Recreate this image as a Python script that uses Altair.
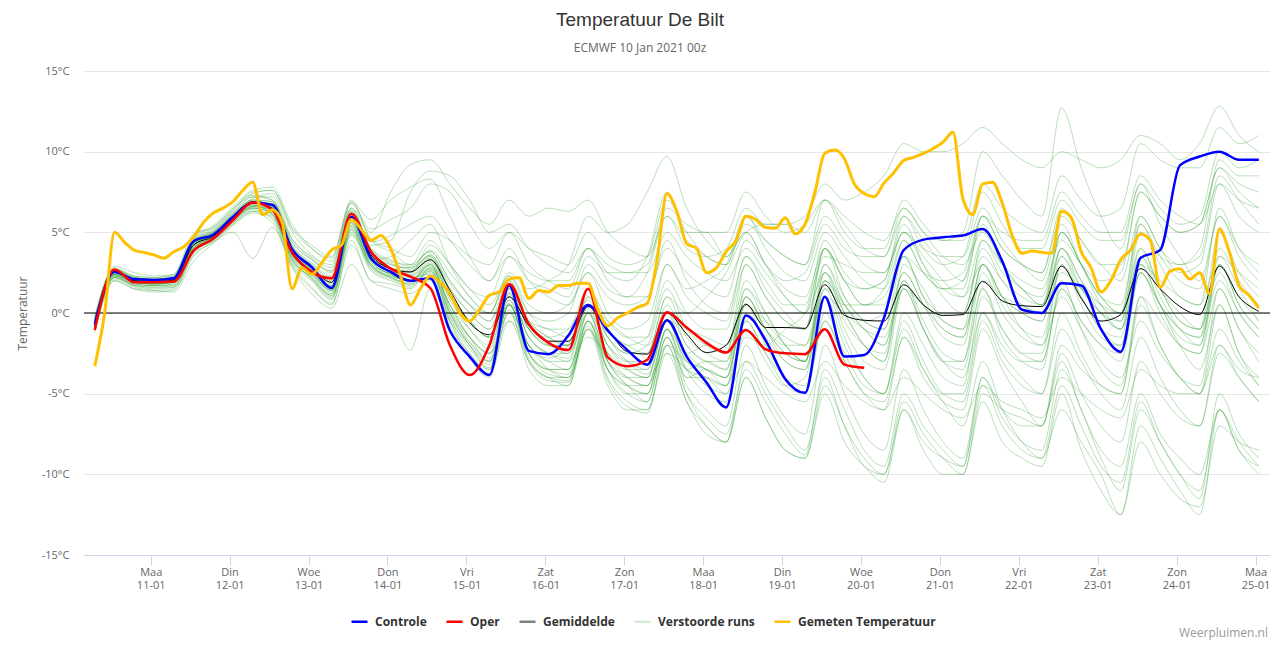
import altair as alt
import pandas as pd

# ---------------- data ----------------
# 6-hourly forecast steps (local time), 10 Jan 07:00 .. 25 Jan 01:00
t6 = pd.date_range("2021-01-10 07:00", periods=60, freq="6h").strftime("%Y-%m-%dT%H:%M:%S").tolist()
# 3-hourly observation steps
t3 = pd.date_range("2021-01-10 07:00", periods=119, freq="3h").strftime("%Y-%m-%dT%H:%M:%S").tolist()

controle = [-0.7, 2.55, 2.1, 2.05, 2.15, 4.45, 4.85, 5.95, 6.85, 6.7, 3.95, 2.85, 1.55, 5.95, 3.4,
            2.55, 2.0, 2.15, -1.1, -2.7, -3.85, 1.7, -2.35, -2.55, -1.4, 0.5, -1.1, -2.3, -3.2, -0.45,
            -2.7, -4.3, -5.85, -0.15, -1.7, -4.1, -4.95, 1.0, -2.7, -2.6, -0.3, 3.9, 4.55, 4.7, 4.8,
            5.2, 3.2, 0.2, 0.0, 1.85, 1.7, -1.0, -2.4, 3.4, 3.9, 9.15, 9.7, 10.0, 9.5, 9.5]

oper = [-1.05, 2.7, 1.9, 1.9, 1.95, 3.85, 4.6, 5.75, 6.85, 6.4, 3.75, 2.55, 2.15, 6.15, 3.8,
        2.75, 2.25, 1.55, -2.0, -3.85, -2.0, 1.8, -0.7, -1.85, -2.3, 1.5, -2.75, -3.3, -2.9, 0.05,
        -0.9, -1.85, -2.45, -1.05, -2.25, -2.5, -2.55, -1.0, -3.2, -3.4]

gemiddelde = [-0.8, 2.6, 2.0, 1.95, 2.05, 4.2, 4.75, 5.85, 6.8, 6.5, 3.9, 2.8, 1.9, 5.9, 3.6,
              2.75, 2.55, 3.3, 1.4, -0.6, -1.35, 1.0, -0.8, -1.75, -1.75, 0.4, -1.0, -2.4, -2.55, 0.0,
              -1.3, -2.45, -2.0, 0.55, -0.9, -0.9, -0.95, 1.75, -0.15, -0.45, -0.5, 1.75, 0.5, -0.15, -0.1,
              1.95, 0.75, 0.45, 0.4, 2.9, 0.9, -0.5, -0.1, 2.75, 1.5, 0.4, -0.1, 2.9, 1.0, 0.1]

gemeten = [-3.3, 0.0, 5.0, 4.4, 3.9, 3.75, 3.6, 3.4, 3.8, 4.1, 4.7, 5.6, 6.2, 6.5, 6.9, 7.6, 8.1,
           6.1, 6.4, 5.6, 1.5, 2.8, 2.4, 3.1, 3.9, 4.2, 5.8, 5.2, 4.5, 4.8, 4.0, 2.3, 0.5, 1.5, 2.3,
           1.9, 1.2, 0.0, -0.5, 0.2, 1.1, 1.3, 2.1, 2.2, 0.9, 1.4, 1.3, 1.7, 1.7, 1.85, 1.85, 0.2,
           -0.8, -0.3, 0.0, 0.35, 0.6, 3.3, 7.4, 6.3, 4.3, 4.0, 2.5, 2.8, 3.8, 4.5, 6.0, 5.8, 5.3,
           5.25, 5.9, 4.9, 5.5, 7.5, 9.9, 10.1, 9.55, 8.0, 7.4, 7.2, 8.05, 8.7, 9.45, 9.65, 9.9,
           10.2, 10.6, 11.2, 7.1, 6.1, 8.0, 8.1, 6.8, 4.8, 3.7, 3.85, 3.76, 3.7, 6.3, 5.9, 3.8, 2.8,
           1.3, 2.0, 3.3, 3.9, 4.9, 4.5, 1.6, 2.6, 2.75, 2.1, 2.5, 1.2, 5.2, 3.8, 1.7, 1.1, 0.3]

runs = [
    [-0.5, 2.6, 2.1, 2.0, 2.1, 4.4, 4.9, 6.0, 6.9, 6.4, 3.7, 2.6, 1.5, 5.8, 3.3,
     2.6, 2.2, 2.4, -0.8, -2.5, -3.5, 1.2, -2.0, -2.8, -2.0, 0.8, -1.5, -3.0, -3.8, -0.5, -3.0,
     -3.5, -4.0, 1.0, -1.0, -2.5, -3.0, 2.5, -0.5, -2.0, -2.5, 2.0, -1.0, -3.0, -3.5, 1.5, -1.5,
     -3.0, -3.5, 2.0, -1.0, -3.5, -4.5, 1.0, -2.0, -4.0, -5.0, 0.5, -2.5, -4.0],
    [-0.3, 2.8, 2.3, 2.2, 2.4, 4.9, 5.3, 6.5, 7.3, 7.0, 4.6, 3.5, 3.0, 6.5, 5.0,
     7.5, 9.2, 9.5, 8.0, 6.5, 5.5, 7.0, 6.0, 6.5, 6.3, 7.0, 5.0, 4.0, 3.5, 6.0, 4.5,
     3.5, 3.0, 5.5, 4.5, 3.5, 3.0, 6.0, 4.5, 3.0, 2.5, 5.0, 3.0, 1.5, 1.0, 4.5, 3.0,
     2.0, 1.5, 4.5, 3.0, 2.0, 2.5, 7.5, 6.0, 5.0, 5.5, 9.0, 8.0, 7.5],
    [-0.6, 2.4, 1.9, 1.8, 2.0, 4.0, 4.6, 5.7, 6.6, 6.8, 4.2, 3.0, 2.2, 6.3, 4.2,
     4.5, 7.5, 8.8, 8.5, 7.0, 5.0, 5.5, 4.0, 3.0, 2.5, 4.0, 2.5, 2.0, 3.5, 7.5, 5.0,
     5.0, 3.5, 5.0, 3.0, 1.0, 0.0, 4.0, 2.0, 1.5, 2.0, 5.5, 3.0, 1.0, 0.0, 4.0, 2.0,
     0.5, 0.0, 5.0, 3.0, 1.0, 0.0, 6.0, 4.0, 2.5, 3.0, 8.0, 7.0, 6.5],
    [-0.9, 2.2, 1.7, 1.5, 1.6, 3.8, 4.5, 5.5, 6.3, 6.0, 3.2, 2.2, 1.0, 5.0, 2.8,
     2.2, 1.8, 2.5, -0.2, -1.8, -2.8, 0.8, -2.5, -3.8, -4.0, 0.0, -3.0, -4.5, -5.0, -1.5, -4.5,
     -6.0, -7.0, -2.0, -4.5, -6.5, -7.5, -2.0, -5.0, -7.5, -8.5, -3.5, -6.0, -8.0, -9.0, -4.0, -6.5,
     -8.0, -8.5, -3.5, -6.0, -9.0, -11.0, -6.0, -8.0, -10.0, -11.5, -5.0, -7.5, -9.0],
    [-0.4, 2.5, 2.2, 2.1, 2.2, 4.3, 4.8, 6.1, 7.1, 7.4, 5.0, 3.6, 2.8, 6.8, 4.5,
     3.8, 3.0, 3.8, 2.0, 0.5, -0.5, 2.0, -0.5, -1.0, -1.5, 1.5, -1.0, -2.0, -2.5, 1.0, -1.5,
     -2.5, -3.0, 1.5, 0.0, -2.0, -3.0, 2.0, 0.0, -2.0, -3.0, 3.0, 1.5, -0.5, -1.0, 4.5, 2.5,
     1.5, 0.5, 5.0, 3.0, 1.0, 0.5, 5.5, 3.5, 2.0, 1.5, 6.0, 4.0, 3.0],
    [-1.2, 2.0, 1.5, 1.3, 1.4, 3.5, 4.4, 5.0, 3.4, 5.3, 3.0, 1.6, 0.5, 4.5, 2.0,
     1.8, 1.5, 2.8, 0.5, -1.5, -3.0, 0.5, -3.0, -4.2, -4.3, -0.5, -4.0, -5.5, -6.0, -2.0, -5.0,
     -6.5, -7.5, -3.5, -5.5, -7.5, -8.8, -3.5, -6.0, -8.5, -9.5, -5.0, -7.0, -8.5, -9.5, -4.5, -7.0,
     -8.5, -9.0, -6.0, -8.0, -10.0, -12.5, -7.0, -9.0, -11.0, -12.5, -6.0, -8.0, -9.5],
    [-0.7, 2.6, 2.0, 1.9, 2.0, 4.6, 5.1, 6.2, 7.0, 6.5, 3.8, 2.7, 1.6, 5.5, 3.0,
     2.5, 2.5, 4.2, 3.0, 1.5, 0.5, 2.3, 0.5, 0.0, 0.5, 2.5, 1.0, 0.5, 1.0, 4.0, 2.5,
     1.5, 1.0, 4.5, 3.0, 2.0, 2.5, 5.5, 4.0, 3.5, 3.5, 6.5, 5.0, 4.5, 4.5, 8.0, 6.5,
     5.5, 5.0, 8.5, 7.0, 6.0, 6.5, 10.5, 9.5, 9.0, 9.0, 11.5, 10.5, 11.0],
    [-0.5, 2.4, 2.0, 2.0, 2.3, 4.5, 5.0, 6.0, 7.0, 6.9, 4.4, 3.3, 2.5, 6.0, 3.8,
     3.0, 2.8, 3.5, 1.5, 0.0, -1.0, 1.5, -1.0, -2.0, -2.0, 1.0, -1.0, -2.0, -1.5, 3.0, 1.5,
     2.0, 3.0, 6.0, 4.5, 3.5, 3.0, 7.0, 5.0, 4.0, 4.0, 7.0, 5.5, 4.5, 5.0, 10.0, 8.5,
     7.0, 6.0, 12.7, 9.0, 6.0, 4.0, 8.0, 5.5, 3.5, 2.0, 6.0, 3.5, 2.0],
    [-0.6, 2.7, 2.2, 2.0, 2.1, 4.3, 4.8, 5.8, 6.6, 6.2, 3.6, 2.5, 1.4, 5.2, 3.3,
     3.5, 4.5, 5.5, 3.0, 1.0, 0.0, 2.0, 0.0, -0.5, 0.0, 3.0, 1.5, 1.0, 2.5, 6.0, 4.0,
     3.5, 4.0, 6.5, 5.5, 5.5, 6.0, 8.0, 7.0, 7.5, 8.5, 10.5, 10.0, 10.0, 10.5, 11.5, 10.5,
     9.5, 9.0, 10.0, 9.5, 9.0, 9.5, 11.0, 10.5, 9.5, 10.5, 12.8, 11.0, 10.0],
    [-0.8, 2.3, 1.8, 1.7, 1.8, 4.0, 4.7, 5.8, 6.6, 6.3, 3.5, 2.3, 1.2, 5.4, 3.0,
     2.3, 2.0, 2.8, 0.5, -1.0, -2.0, 1.0, -1.5, -2.5, -3.0, 0.5, -2.5, -4.0, -4.5, -1.0, -3.5,
     -3.0, -3.5, 1.5, -0.5, -2.0, -3.0, 2.5, 0.0, -2.0, -3.0, 2.0, -0.5, -2.5, -3.0, 1.5, -1.0,
     -2.5, -3.0, 1.5, -0.5, -2.0, -3.0, 2.5, 0.5, -1.0, -1.5, 4.0, 2.0, 0.5],
    [-0.2, 2.9, 2.5, 2.3, 2.4, 4.8, 5.4, 6.6, 7.6, 7.8, 5.5, 4.0, 3.4, 7.0, 4.6,
     4.0, 3.5, 5.0, 4.5, 3.5, 3.0, 5.0, 4.0, 3.5, 3.0, 5.0, 3.5, 3.0, 3.5, 7.0, 5.0,
     3.5, 3.0, 6.0, 4.0, 2.5, 2.0, 5.0, 3.5, 2.0, 1.5, 4.5, 2.5, 1.5, 2.0, 6.0, 4.0,
     3.0, 2.5, 6.5, 4.5, 3.0, 2.0, 6.0, 4.0, 3.0, 3.5, 8.5, 7.0, 5.5],
    [-1.0, 2.1, 1.6, 1.4, 1.3, 3.2, 4.3, 5.4, 6.2, 5.6, 2.8, 1.2, 0.3, 3.0, 1.0,
     0.0, -2.3, 1.5, -0.5, -2.0, -3.5, 0.0, -3.0, -4.0, -4.5, -0.5, -3.5, -5.0, -5.5, -1.5, -4.0,
     -4.0, -4.5, 1.0, -1.0, -2.5, -3.0, 3.0, 0.5, -1.0, -2.0, 2.5, 0.5, -1.5, -2.0, 3.0, 0.5,
     -1.0, -1.5, 3.5, 1.0, -1.0, -2.0, 3.0, 0.5, -1.5, -2.0, 3.5, 1.5, -0.5],
    [-0.6, 2.5, 2.0, 1.9, 1.9, 4.1, 4.7, 5.9, 6.9, 6.7, 4.0, 2.9, 2.0, 6.1, 3.6,
     2.8, 2.6, 3.6, 1.5, 0.0, -1.0, 1.8, -0.5, -1.5, -2.0, 0.5, -2.0, -3.0, -3.0, 0.5, -2.0,
     -3.0, -3.5, 1.0, -1.0, -3.0, -3.5, 2.0, -1.0, -3.0, -3.5, 1.5, -1.0, -3.0, -3.0, 2.5, 0.0,
     -1.5, -2.0, 3.0, 0.5, -1.5, -2.0, 3.5, 1.0, -1.0, -2.0, 3.0, 0.5, -1.0],
    [-0.7, 2.4, 2.0, 1.8, 1.9, 4.2, 4.9, 6.0, 6.7, 6.1, 3.4, 2.4, 1.3, 5.6, 3.2,
     2.4, 2.0, 3.0, 0.0, -2.0, -3.2, 0.5, -2.5, -3.5, -3.5, 0.0, -3.0, -4.5, -5.5, -1.5, -5.0,
     -7.0, -8.0, -3.0, -5.0, -7.0, -8.5, -4.0, -7.0, -9.0, -10.0, -5.5, -7.5, -9.0, -10.0, -5.0, -6.0,
     -6.5, -7.0, -2.0, -3.5, -4.5, -5.0, 1.0, -0.5, -2.0, -2.5, 3.0, 1.0, -0.5],
    [-0.4, 2.6, 2.2, 2.1, 2.3, 4.6, 5.2, 6.4, 7.4, 7.6, 5.2, 4.0, 3.2, 6.8, 5.2,
     5.8, 6.5, 8.0, 7.5, 5.5, 4.0, 5.0, 3.0, 2.0, 1.5, 4.0, 2.0, 1.0, 1.0, 4.5, 2.0,
     0.5, 0.0, 3.5, 1.5, 0.0, -1.0, 3.0, 1.0, -0.5, -1.0, 2.5, 0.5, -1.0, -1.5, 3.0, 1.0,
     0.0, -0.5, 4.0, 2.0, 0.0, -1.0, 5.0, 3.5, 3.0, 4.0, 9.5, 8.5, 8.5],
    [-1.0, 2.2, 1.7, 1.6, 1.6, 3.7, 4.5, 5.6, 6.4, 5.9, 3.1, 2.0, 0.8, 4.8, 2.6,
     2.0, 1.6, 2.6, -0.5, -2.8, -4.0, 0.2, -3.5, -4.5, -4.5, -1.0, -4.5, -6.0, -6.0, -2.5, -5.5,
     -7.5, -8.0, -4.0, -6.5, -8.5, -9.0, -4.5, -7.0, -9.5, -10.0, -6.0, -8.5, -10.0, -10.0, -5.5, -8.0,
     -9.0, -9.5, -5.0, -8.5, -11.0, -12.5, -8.0, -10.0, -11.5, -12.0, -7.0, -8.0, -8.5],
    [-0.6, 2.5, 2.1, 1.9, 2.1, 4.4, 5.0, 6.1, 6.8, 6.6, 3.9, 2.8, 1.8, 6.0, 3.7,
     3.0, 2.8, 3.9, 2.5, 1.0, 0.0, 2.3, 0.0, -1.0, -1.0, 1.5, -0.5, -1.5, -1.5, 2.0, 0.0,
     -1.0, -1.0, 3.0, 1.0, -0.5, -1.0, 4.0, 2.0, 0.5, 0.5, 4.5, 2.5, 1.5, 1.5, 6.0, 4.0,
     3.0, 2.5, 6.0, 4.5, 3.0, 3.0, 7.5, 6.0, 5.0, 5.5, 9.0, 7.5, 6.5],
    [-0.8, 2.3, 1.9, 1.8, 1.9, 4.1, 4.8, 5.9, 6.7, 6.4, 3.6, 2.4, 1.4, 5.3, 3.0,
     2.2, 1.9, 3.1, 0.3, -1.5, -2.5, 0.8, -2.0, -3.0, -3.5, 0.0, -3.5, -5.0, -5.0, -1.0, -3.5,
     -4.0, -5.0, -0.5, -2.5, -4.5, -5.0, 0.0, -2.5, -4.5, -5.0, 0.0, -2.0, -4.0, -4.5, 1.0, -1.0,
     -2.5, -2.5, 3.0, 1.0, -1.0, -1.5, 4.0, 1.5, -0.5, -1.0, 5.0, 2.5, 1.0],
    [-0.9, 2.2, 1.8, 1.7, 1.7, 3.9, 4.6, 5.7, 6.5, 6.2, 3.4, 2.1, 1.1, 5.1, 2.7,
     2.1, 1.7, 2.6, -0.3, -2.2, -3.4, 0.6, -2.8, -4.0, -4.2, -0.8, -4.2, -5.8, -6.2, -2.0, -5.5,
     -7.0, -8.0, -4.0, -6.5, -8.5, -9.0, -5.0, -8.0, -9.5, -10.5, -6.0, -8.0, -9.0, -9.5, -4.0, -6.0,
     -7.0, -7.0, -2.5, -5.0, -7.0, -8.0, -3.0, -5.0, -6.5, -7.0, -2.5, -4.0, -5.5],
    [-0.5, 2.6, 2.1, 2.0, 2.2, 4.5, 5.0, 6.2, 7.2, 7.2, 4.6, 3.4, 2.6, 6.5, 4.0,
     3.2, 3.0, 4.5, 3.0, 1.5, 1.0, 3.5, 2.0, 1.5, 1.0, 3.5, 2.5, 2.5, 3.0, 6.5, 5.5,
     5.0, 5.0, 7.5, 6.0, 5.0, 5.5, 7.0, 5.5, 4.0, 3.5, 6.0, 4.0, 3.0, 3.5, 7.5, 5.5,
     4.0, 4.0, 7.0, 5.5, 4.5, 4.5, 8.0, 6.5, 5.5, 6.0, 10.0, 9.0, 9.5],
    [-0.7, 2.4, 1.9, 1.8, 2.0, 4.2, 4.8, 5.9, 6.8, 6.5, 3.8, 2.6, 1.6, 5.7, 3.4,
     2.5, 2.1, 3.2, 0.8, -1.0, -2.2, 1.2, -1.5, -2.5, -2.8, 0.3, -2.5, -3.5, -3.5, 0.0, -2.5,
     -2.0, -2.5, 3.0, 1.0, -0.5, -1.0, 4.0, 1.0, -0.5, -1.0, 3.5, 1.0, -1.0, -1.5, 3.0, 1.0,
     0.0, -0.5, 4.0, 1.5, 0.0, -0.5, 5.5, 3.0, 1.0, 0.5, 6.5, 4.0, 2.5],
    [-0.3, 2.7, 2.3, 2.2, 2.3, 4.7, 5.3, 6.4, 7.5, 7.6, 5.3, 4.2, 3.5, 6.9, 5.8,
     7.0, 7.8, 8.3, 6.0, 3.5, 2.0, 4.0, 2.0, 1.0, 0.5, 2.5, 0.0, -1.0, -0.5, 3.0, 1.0,
     0.0, -0.5, 3.5, 2.0, 0.5, 0.5, 4.5, 2.5, 1.5, 2.0, 6.0, 4.5, 3.0, 2.0, 5.5, 3.0,
     1.5, 1.0, 5.0, 3.0, 1.0, 0.0, 4.0, 1.5, 0.0, -1.0, 3.0, 0.5, -1.0],
    [-0.8, 2.3, 1.8, 1.7, 1.8, 4.0, 4.6, 5.7, 6.5, 6.1, 3.3, 2.1, 0.9, 4.9, 2.9,
     2.3, 2.0, 3.0, 0.2, -1.8, -3.0, 0.5, -2.5, -3.5, -3.8, -0.5, -3.5, -4.5, -5.0, -1.0, -4.0,
     -3.5, -4.0, 0.5, -2.0, -4.0, -5.0, -0.5, -3.0, -5.0, -6.0, -1.5, -4.0, -5.5, -6.0, -1.0, -3.5,
     -5.5, -7.0, -3.0, -6.0, -8.5, -9.5, -5.0, -7.5, -9.0, -10.0, -6.0, -8.5, -10.0],
    [-0.5, 2.5, 2.0, 1.9, 2.0, 4.3, 4.9, 6.0, 6.9, 6.8, 4.1, 3.0, 2.1, 6.3, 4.0,
     3.3, 2.9, 3.8, 2.0, 0.5, 0.0, 2.5, 1.5, 2.0, 3.0, 6.0, 5.0, 5.5, 7.5, 9.7, 6.5,
     4.5, 3.5, 5.0, 3.0, 1.5, 1.0, 4.0, 2.0, 0.5, 1.0, 3.5, 1.0, 0.0, 0.0, 3.5, 2.0,
     1.0, 0.5, 4.0, 2.0, 0.5, -0.5, 3.5, 1.5, -0.5, -1.0, 2.5, 0.0, -1.5],
    [-0.6, 2.5, 2.0, 1.9, 2.0, 4.2, 4.8, 5.9, 6.8, 6.6, 3.9, 2.7, 1.7, 5.8, 3.5,
     2.7, 2.3, 3.0, 1.0, -0.5, -1.5, 0.5, -1.0, -1.5, -1.0, 0.5, -0.5, -1.5, -2.0, -0.5, -1.0,
     -1.5, -2.0, 0.5, -0.5, -1.5, -2.0, 1.0, 0.0, -1.0, -1.5, 1.5, 0.5, -0.5, -1.0, 2.0, 1.0,
     0.5, 0.0, 2.5, 1.5, 0.5, 0.0, 3.0, 2.0, 1.0, 0.5, 3.5, 2.5, 1.5],
    [-0.7, 2.4, 1.9, 1.8, 1.9, 4.1, 4.7, 5.8, 6.6, 6.4, 3.6, 2.5, 1.5, 5.6, 3.2,
     2.4, 2.0, 2.9, 0.5, -1.5, -2.5, 0.0, -2.0, -3.5, -4.0, -1.0, -3.0, -4.0, -4.5, -2.0, -3.0,
     -3.5, -4.5, -1.5, -2.0, -1.0, 0.0, 3.5, 3.0, 2.5, 2.5, 5.0, 3.5, 2.0, 1.0, 3.0, 1.0,
     -1.0, -2.0, 1.0, -1.0, -3.0, -4.0, -0.5, -2.5, -4.0, -5.0, -1.0, -3.0, -4.5],
    [-0.8, 2.3, 1.9, 1.8, 1.9, 4.0, 4.7, 5.8, 6.7, 6.3, 3.6, 2.5, 1.4, 5.4, 3.2,
     2.4, 2.0, 2.7, 0.0, -1.5, -2.5, -0.5, -2.0, -3.0, -3.0, -1.5, -2.5, -3.5, -4.0, -2.5, -3.5,
     -4.5, -5.0, -3.0, -4.0, -5.0, -5.5, -3.0, -4.5, -5.5, -6.0, -4.0, -5.0, -6.0, -6.5, -4.5, -5.5,
     -6.0, -6.5, -4.0, -5.0, -6.0, -6.5, -3.5, -4.5, -5.0, -5.0, -2.0, -3.5, -4.0],
    [-0.5, 2.6, 2.1, 2.0, 2.1, 4.4, 5.0, 6.1, 7.0, 6.9, 4.2, 3.1, 2.3, 6.2, 3.9,
     3.1, 2.7, 3.6, 1.8, 0.5, -0.5, 1.5, -0.5, -1.5, -2.0, 0.5, -1.5, -2.5, -2.5, 1.0, 0.0,
     1.0, 2.5, 5.0, 5.5, 5.5, 5.0, 7.0, 6.0, 5.0, 4.5, 6.5, 5.0, 3.5, 3.0, 5.0, 3.0,
     1.5, 0.5, 3.5, 1.5, 0.0, -1.0, 2.5, 0.5, -1.0, -1.5, 2.0, 0.0, -1.5],
    [-0.9, 2.2, 1.7, 1.6, 1.7, 3.9, 4.6, 5.6, 6.5, 6.1, 3.3, 2.2, 1.1, 5.2, 2.9,
     2.2, 1.8, 2.7, 0.0, -2.0, -3.0, 0.5, -2.5, -3.5, -3.5, -0.5, -3.0, -4.0, -4.0, -0.5, -2.5,
     -3.5, -4.0, 0.0, -1.5, -3.0, -3.5, 1.0, -2.0, -4.0, -5.0, -1.0, -3.5, -5.5, -7.0, -3.0, -6.0,
     -8.0, -9.0, -4.5, -7.0, -9.5, -10.5, -5.5, -8.0, -10.0, -11.0, -6.0, -8.5, -9.5],
    [-0.6, 2.5, 2.0, 1.9, 2.0, 4.3, 4.9, 6.0, 6.8, 6.5, 3.8, 2.7, 1.7, 5.9, 3.5,
     2.7, 2.4, 3.4, 1.0, -0.5, -1.5, 1.5, -1.0, -2.0, -2.5, 0.0, -2.0, -3.0, -3.5, 0.0, -2.0,
     -3.0, -3.0, 0.5, -1.0, -2.0, -2.0, 2.0, 0.5, -0.5, 0.0, 3.5, 2.5, 2.0, 2.5, 6.0, 5.0,
     4.5, 4.5, 7.5, 6.0, 5.0, 5.0, 8.5, 7.0, 6.0, 5.5, 8.0, 6.0, 5.0],
    [-0.4, 2.7, 2.2, 2.1, 2.2, 4.5, 5.1, 6.3, 7.2, 7.0, 4.4, 3.3, 2.6, 6.4, 4.4,
     4.8, 5.5, 6.0, 4.5, 3.0, 2.0, 3.5, 2.5, 2.0, 2.0, 4.0, 3.0, 2.5, 2.5, 5.0, 3.5,
     2.5, 2.0, 4.0, 2.5, 1.0, 0.0, 2.5, 0.5, -1.0, -2.0, 1.5, -1.0, -3.0, -4.0, 0.0, -2.5,
     -4.0, -5.0, -1.0, -3.0, -5.0, -6.0, -1.5, -4.0, -6.0, -7.0, -2.0, -4.0, -5.5],
    [-1.1, 2.0, 1.5, 1.4, 1.5, 3.6, 4.4, 5.5, 6.3, 5.8, 2.9, 1.5, 0.6, 4.2, 2.0,
     1.5, 1.2, 2.0, -0.5, -2.5, -3.8, -0.5, -3.0, -4.0, -4.0, -1.0, -3.5, -4.5, -4.5, -1.0, -3.0,
     -4.0, -4.5, -0.5, -2.5, -4.0, -4.5, -0.5, -3.0, -5.0, -5.5, -1.5, -3.5, -5.0, -5.0, 0.0, -2.0,
     -3.0, -3.0, 1.5, -0.5, -2.0, -2.5, 2.5, 0.0, -2.0, -2.5, 1.5, -1.0, -2.5],
    [-0.6, 2.5, 2.1, 2.0, 2.1, 4.4, 4.9, 6.0, 6.9, 6.7, 4.0, 2.8, 1.9, 6.0, 3.6,
     2.8, 2.5, 3.5, 1.2, -0.5, -1.5, 1.0, -1.5, -2.5, -2.5, 0.5, -2.0, -3.5, -4.0, -0.5, -3.5,
     -5.0, -5.5, -1.0, -3.0, -4.5, -4.0, 1.5, 0.5, 0.5, 1.5, 5.0, 4.0, 3.5, 3.5, 6.5, 4.5,
     3.0, 2.0, 5.5, 3.0, 0.5, -1.0, 3.0, 0.5, -2.0, -3.5, 0.5, -2.5, -4.5],
    [-0.7, 2.4, 2.0, 1.9, 2.0, 4.3, 4.8, 5.9, 6.8, 6.6, 3.8, 2.6, 1.6, 5.6, 3.3,
     2.6, 2.3, 3.3, 1.0, -0.5, -1.5, 1.3, -1.0, -2.0, -2.0, 1.0, -1.5, -2.5, -2.0, 1.5, -1.0,
     -2.0, -2.5, 2.0, 0.0, -2.0, -3.0, 1.5, -1.5, -4.0, -5.0, -0.5, -3.0, -5.0, -5.5, -0.5, -3.0,
     -4.5, -5.0, 0.0, -2.5, -4.5, -5.0, 0.5, -2.0, -4.0, -4.5, 1.5, -1.0, -3.0],
]

series_names = ["Controle", "Oper", "Gemiddelde", "Verstoorde runs", "Gemeten Temperatuur"]
legend_colors = ["#0000ff", "#ff0000", "#7f7f7f", "#d4ecd4", "#ffc000"]
y_ticks = [-15, -10, -5, 0, 5, 10, 15]
zero_line = [0]
credit = ["Weerpluimen.nl"]

# ---------------- frames ----------------
runs_df = pd.DataFrame(
    [{"t": t6[k], "v": vals[k], "run": i} for i, vals in enumerate(runs) for k in range(len(vals))]
)
ctrl_df = pd.DataFrame({"t": t6, "v": controle})
oper_df = pd.DataFrame({"t": t6[:len(oper)], "v": oper})
mean_df = pd.DataFrame({"t": t6, "v": gemiddelde})
obs_df = pd.DataFrame({"t": t3, "v": gemeten})
legend_df = pd.DataFrame({"t": [t6[0]] * len(series_names), "v": [None] * len(series_names), "s": series_names})

FONT = "Open Sans"

x_enc = alt.X(
    "t:T",
    scale=alt.Scale(domain=[alt.DateTime(year=2021, month=1, date=10, hours=3, minutes=43),
                            alt.DateTime(year=2021, month=1, date=25, hours=4, minutes=24)]),
    axis=alt.Axis(
        values=[alt.DateTime(year=2021, month=1, date=d) for d in range(11, 26)],
        labelExpr="[['Zon','Maa','Din','Woe','Don','Vri','Zat'][day(datum.value)], timeFormat(datum.value, '%d-%m')]",
        grid=False, domainColor="#ccd6eb", tickColor="#ccd6eb", tickSize=10,
        labelColor="#666666", labelFontSize=11, labelFont=FONT, labelPadding=1,
        labelLineHeight=13, labelFlush=False, labelOverlap=False, labelAlign="center",
        labelBaseline="top", title=None,
    ),
)
y_enc = alt.Y(
    "v:Q",
    scale=alt.Scale(domain=[-15, 15], nice=False, zero=False),
    axis=alt.Axis(
        values=y_ticks, labelExpr="datum.value + '°C'", grid=True, gridColor="#e6e6e6",
        domain=False, ticks=False, labelPadding=15, labelColor="#666666", labelFontSize=11,
        labelFont=FONT, labelFlush=False, title="Temperatuur", titleColor="#666666",
        titleFontSize=12, titleFontWeight="normal", titleFont=FONT, titleX=-62, titleY=242,
        titleAngle=270, titleBaseline="middle", titleAlign="center",
    ),
)

pert = alt.Chart(runs_df).mark_line(strokeWidth=1, color="#2a9a2a", opacity=0.32,
                                     interpolate="monotone").encode(x=x_enc, y=y_enc, detail="run:N")
zero = alt.Chart(pd.DataFrame({"v": zero_line})).mark_rule(color="black", strokeWidth=1).encode(y="v:Q")
mean = alt.Chart(mean_df).mark_line(strokeWidth=1, color="#000000", interpolate="monotone").encode(x=x_enc, y=y_enc)
ctrl = alt.Chart(ctrl_df).mark_line(strokeWidth=2.5, color="#0000ff", interpolate="monotone").encode(x=x_enc, y=y_enc)
oprl = alt.Chart(oper_df).mark_line(strokeWidth=2.5, color="#ff0000", interpolate="monotone").encode(x=x_enc, y=y_enc)
obs = alt.Chart(obs_df).mark_line(strokeWidth=3, color="#ffc000", interpolate="monotone").encode(x=x_enc, y=y_enc)

leg = alt.Chart(legend_df).mark_line(strokeWidth=2.5).encode(
    x=x_enc, y=y_enc,
    color=alt.Color("s:N", scale=alt.Scale(domain=series_names, range=legend_colors),
                    legend=alt.Legend(orient="none", legendX=266, legendY=541, direction="horizontal",
                                      columns=5, title=None, symbolType="stroke", symbolSize=256,
                                      symbolStrokeWidth=2.5, symbolOpacity=1, labelFont=FONT,
                                      labelFontWeight="bold", labelFontSize=12, labelColor="#333333",
                                      columnPadding=14, labelOffset=6, padding=0)),
)

cred = alt.Chart(pd.DataFrame({"s": credit})).mark_text(
    align="right", baseline="middle", fontSize=12, color="#999999", font=FONT
).encode(x=alt.value(1184), y=alt.value(562), text="s:N")

chart = alt.layer(pert, zero, mean, ctrl, oprl, obs, leg, cred).properties(
    width=1186, height=484,
    autosize=alt.AutoSizeParams(type="none"),
    padding={"left": 76, "top": 63, "right": 0, "bottom": 85},
    background="white",
    title=alt.TitleParams(
        text="Temperatuur De Bilt", subtitle="ECMWF 10 Jan 2021 00z", anchor="middle", frame="group",
        dx=-37, fontSize=19, font="Liberation Sans", fontWeight="normal", color="#333333",
        subtitleFontSize=12, subtitleColor="#666666", subtitleFont=FONT, offset=11, subtitlePadding=13,
    ),
).configure_view(stroke=None)

chart.save("out.html", embed_options={"renderer": "svg", "actions": False})
